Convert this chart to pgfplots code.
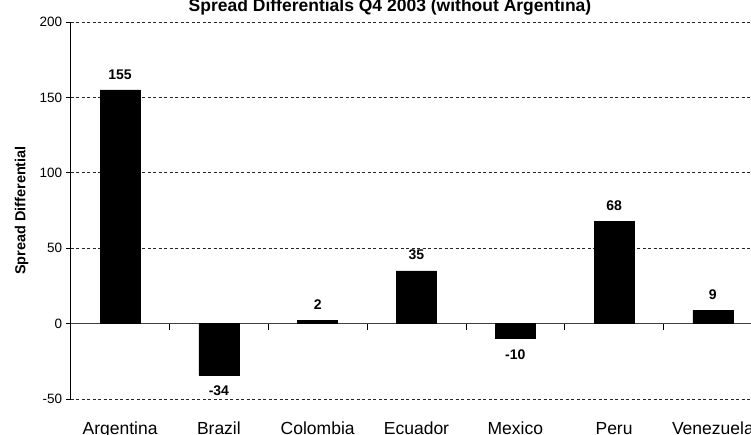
\documentclass[border=0pt]{standalone}
\usepackage{pgfplots}
\pgfplotsset{compat=1.18}
\usepackage{pgfplotstable}
\usepackage{fontspec}
\setmainfont{Liberation Sans}
\usetikzlibrary{calc}

\pgfplotstableread{
idx country value
0 Argentina 155
1 Brazil -34
2 Colombia 2
3 Ecuador 35
4 Mexico -10
5 Peru 68
6 Venezuela 9
}\spreads

\begin{document}
\begin{tikzpicture}
\begin{axis}[
  scale only axis,
  width=680.3pt, height=377pt,
  xmin=-0.5, xmax=6.386,
  ymin=-50, ymax=200,
  axis y line*=left,
  axis x line*=bottom,
  x axis line style={draw=none},
  y axis line style={line width=0.8pt, black},
  ytick={-50,0,50,100,150,200},
  yticklabels={-50,0,50,100,150,200},
  xtick={0,...,6},
  xticklabels={Argentina,Brazil,Colombia,Ecuador,Mexico,Peru,Venezuela},
  x tick style={draw=none},
  y tick style={black, line width=0.7pt},
  tick align=outside,
  major tick length=5pt,
  ymajorgrids,
  major grid style={black!85, line width=0.6pt, dash pattern=on 3pt off 2.5pt},
  yticklabel style={font=\fontsize{13.5}{15}\selectfont},
  xticklabel style={font=\fontsize{17.5}{19}\selectfont, anchor=base, yshift=-31pt},
  /pgf/number format/assume math mode=true,
  ybar, bar width=40pt,
  nodes near coords,
  nodes near coords align={vertical},
  nodes near coords style={font=\bfseries\fontsize{14}{15}\selectfont, black, inner ysep=10.5pt},
  clip=false,
]
  % zero line and the category separators hanging below it
  \draw[line width=0.8pt, black!75] (axis cs:-0.5,0) -- (axis cs:6.386,0);
  \pgfplotsinvokeforeach{0.5,1.5,2.5,3.5,4.5,5.5}{
    \draw[line width=0.7pt, black] (axis cs:#1,0) -- ([yshift=-6pt]axis cs:#1,0);
  }
  \addplot[fill=black, draw=black] table[x=idx, y=value] {\spreads};
\end{axis}
\node[font=\bfseries\fontsize{17.5}{19}\selectfont, anchor=base]
  at ($(current axis.north west)+(319.3pt,10pt)$)
  {Spread Differentials Q4 2003 (without Argentina)};
\node[font=\bfseries\fontsize{14.5}{16}\selectfont, rotate=90, anchor=center]
  at ($(current axis.west)+(-49pt,0)$) {Spread Differential};
\pgfresetboundingbox
\useasboundingbox ($(current axis.south west)+(-70.7pt,-36pt)$)
  rectangle ($(current axis.north east)+(0,22pt)$);
\end{tikzpicture}
\end{document}
